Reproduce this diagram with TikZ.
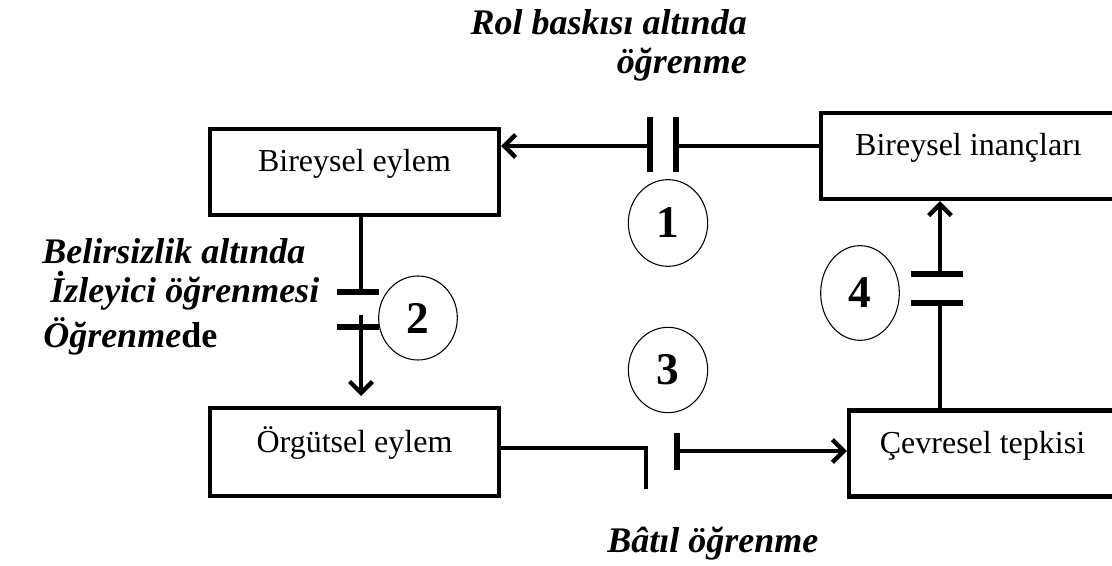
\documentclass[tikz,border=0pt]{standalone}
\usepackage{fontspec}
\setmainfont{Liberation Serif}
\usetikzlibrary{arrows.meta,shapes.geometric}
\begin{document}
\begin{tikzpicture}[x=0.75pt,y=-0.75pt,
  box/.style={draw,line width=3.2pt,rectangle,inner xsep=0pt,inner ysep=0pt,
    text height=32.25pt,text depth=32.25pt,font=\fontsize{24}{28}\selectfont},
  conn/.style={line width=3.3pt},
  arr/.style={conn,-{Straight Barb[length=8.5pt,width=17pt]}},
  gatebar/.style={line width=3.8pt},
  num/.style={draw,ellipse,line width=0.8pt,inner sep=0pt,
    font=\fontsize{34}{38}\selectfont\bfseries},
  lbl/.style={font=\fontsize{27}{30}\selectfont\bfseries\itshape,inner sep=0pt}]
\useasboundingbox (0,0) rectangle (1112,566);
\clip (0,0) rectangle (1112,566);

% boxes
\node[box,minimum width=216.75pt] (A) at (354.5,172) {Bireysel eylem};
\node[box,minimum width=221.25pt] (B) at (968.5,156) {Bireysel inançları};
\node[box,minimum width=216.75pt,text height=33pt,text depth=33pt] (C) at (354.5,452) {Örgütsel eylem};
\node[box,minimum width=200.25pt] (D) at (982.5,453.5) {Çevresel tepkisi};

% numbered ellipses
\node[num,minimum width=59.5pt,minimum height=65pt] (n1) at (668,223) {1};
\node[num,minimum width=59pt,minimum height=63pt] (n2) at (418,318) {2};
\node[num,minimum width=59.5pt,minimum height=64pt] (n3) at (668,370) {3};
\node[num,minimum width=59pt,minimum height=71pt] (n4) at (860,293) {4};

% labels
\node[lbl,anchor=base east] (rol1) at (747,35) {Rol baskısı altında};
\node[lbl,anchor=base east] (rol2) at (747,74) {öğrenme};
\node[lbl,anchor=base west] (bel1) at (42,264) {Belirsizlik altında};
\node[lbl,anchor=base west] (bel2) at (50,302) {İzleyici öğrenmesi};
\node[lbl,anchor=base west] (bel3) at (43,347) {Öğrenme\textup{de}};
\node[lbl,anchor=base west] (bat) at (607,552) {Bâtıl öğrenme};

% connector 1 : B -> A
\coordinate (g1r) at (676,146);
\coordinate (g1l) at (650,146);
\draw[conn] (B.west |- g1r) -- (g1r);
\draw[gatebar] (676,117) -- (676,172);
\draw[gatebar] (650,117) -- (650,172);
\draw[arr] (g1l) -- (A.east |- g1l);

% connector 2 : A -> C
\coordinate (g2a) at (361,292);
\coordinate (g2c) at (361,315);
\coordinate (g2t) at (361,396);
\draw[conn] (A.south -| g2a) -- (g2a);
\draw[gatebar] (337,292) -- (379,292);
\draw[gatebar] (337,327) -- (379,327);
\draw[arr] (g2c) -- (g2t);

% connector 3 : C -> D
\coordinate (g3l) at (646,448);
\coordinate (g3r) at (677,451);
\draw[conn,line join=miter] (C.east |- g3l) -- (g3l) -- (646,489);
\draw[gatebar] (677,433) -- (677,470);
\draw[arr] (g3r) -- (D.west |- g3r);

% connector 4 : D -> B
\coordinate (g4b) at (940,303);
\coordinate (g4t) at (940,274);
\draw[conn] (D.north -| g4b) -- (g4b);
\draw[gatebar] (911,303) -- (963,303);
\draw[gatebar] (911,274) -- (963,274);
\draw[arr] (g4t) -- (B.south -| g4t);
\end{tikzpicture}
\end{document}
